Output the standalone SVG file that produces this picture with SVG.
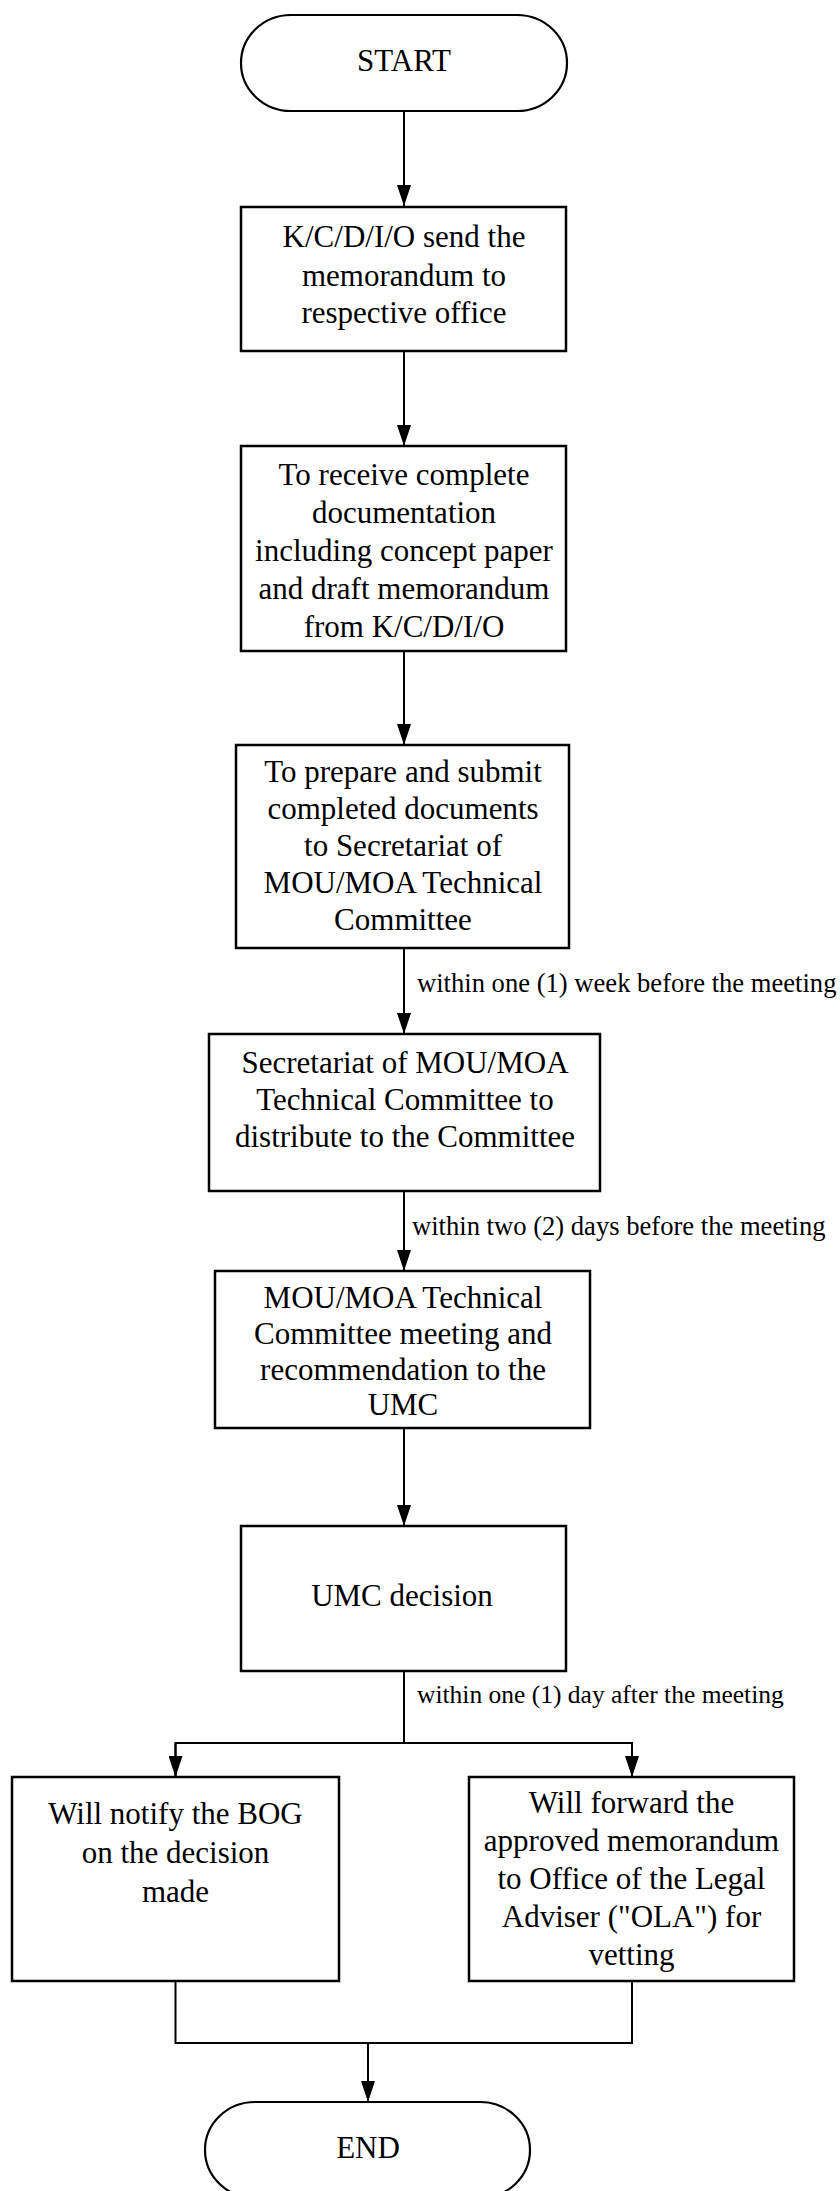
<svg xmlns="http://www.w3.org/2000/svg" width="840" height="2191" viewBox="0 0 840 2191">
<defs>
<style>
.box{fill:#fff;stroke:#000;stroke-width:2.5}
.term{fill:#fff;stroke:#000;stroke-width:2.2}
.t{font-family:"Liberation Serif","Times New Roman",serif;font-size:31px;fill:#000;text-anchor:middle}
.lbl{font-family:"Liberation Serif","Times New Roman",serif;font-size:26.6px;fill:#000;text-anchor:start}
.c{fill:none;stroke:#000;stroke-width:2}
</style>
<marker id="ah" markerUnits="userSpaceOnUse" markerWidth="21" markerHeight="14" refX="21" refY="7" orient="auto">
<path d="M0,0 L21,7 L0,14 z" fill="#000"/>
</marker>
</defs>
<rect width="840" height="2191" fill="#fff"/>

<g id="connectors">
<line class="c" x1="404" y1="111" x2="404" y2="206" marker-end="url(#ah)"/>
<line class="c" x1="404" y1="351" x2="404" y2="446" marker-end="url(#ah)"/>
<line class="c" x1="404" y1="651" x2="404" y2="745" marker-end="url(#ah)"/>
<line class="c" x1="404" y1="948" x2="404" y2="1034" marker-end="url(#ah)"/>
<text class="lbl" x="417" y="992">within one (1) week before the meeting</text>
<line class="c" x1="404" y1="1191" x2="404" y2="1271" marker-end="url(#ah)"/>
<text class="lbl" x="412" y="1235">within two (2) days before the meeting</text>
<line class="c" x1="404" y1="1428" x2="404" y2="1526" marker-end="url(#ah)"/>
<polyline class="c" points="404,1671 404,1743"/>
<text class="lbl" x="417" y="1703" style="font-size:25.5px">within one (1) day after the meeting</text>
<polyline class="c" points="175.5,1777 175.5,1743 632,1743 632,1777" marker-end="url(#ah)"/>
<line class="c" x1="175.5" y1="1743" x2="175.5" y2="1777" marker-end="url(#ah)"/>
<polyline class="c" points="175.5,1981 175.5,2043 632,2043 632,1981"/>
<line class="c" x1="368" y1="2043" x2="368" y2="2102" marker-end="url(#ah)"/>
</g>

<g id="start">
<rect class="term" x="241" y="15" width="326" height="96" rx="50" ry="48"/>
<text class="t" x="404" y="71">START</text>
</g>

<g id="send">
<rect class="box" x="241" y="207" width="325" height="144"/>
<text class="t" x="404" y="247">K/C/D/I/O send the</text>
<text class="t" x="404" y="286">memorandum to</text>
<text class="t" x="404" y="323">respective office</text>
</g>

<g id="receive">
<rect class="box" x="241" y="446" width="325" height="205"/>
<text class="t" x="404" y="485">To receive complete</text>
<text class="t" x="404" y="523">documentation</text>
<text class="t" x="404" y="561">including concept paper</text>
<text class="t" x="404" y="599">and draft memorandum</text>
<text class="t" x="404" y="637">from K/C/D/I/O</text>
</g>

<g id="prepare">
<rect class="box" x="236" y="745" width="333" height="203"/>
<text class="t" x="403" y="782">To prepare and submit</text>
<text class="t" x="403" y="819">completed documents</text>
<text class="t" x="403" y="856">to Secretariat of</text>
<text class="t" x="403" y="893">MOU/MOA Technical</text>
<text class="t" x="403" y="930">Committee</text>
</g>

<g id="distribute">
<rect class="box" x="209" y="1034" width="391" height="157"/>
<text class="t" x="405" y="1073">Secretariat of MOU/MOA</text>
<text class="t" x="405" y="1110">Technical Committee to</text>
<text class="t" x="405" y="1147">distribute to the Committee</text>
</g>

<g id="meeting">
<rect class="box" x="215" y="1271" width="375" height="157"/>
<text class="t" x="403" y="1308">MOU/MOA Technical</text>
<text class="t" x="403" y="1344">Committee meeting and</text>
<text class="t" x="403" y="1380">recommendation to the</text>
<text class="t" x="403" y="1415">UMC</text>
</g>

<g id="decision">
<rect class="box" x="241" y="1526" width="325" height="145"/>
<text class="t" x="402" y="1606">UMC decision</text>
</g>

<g id="notify">
<rect class="box" x="12" y="1777" width="327" height="204"/>
<text class="t" x="175.5" y="1824">Will notify the BOG</text>
<text class="t" x="175.5" y="1863">on the decision</text>
<text class="t" x="175.5" y="1902">made</text>
</g>

<g id="forward">
<rect class="box" x="469" y="1777" width="325" height="204"/>
<text class="t" x="631.5" y="1813">Will forward the</text>
<text class="t" x="631.5" y="1851">approved memorandum</text>
<text class="t" x="631.5" y="1889">to Office of the Legal</text>
<text class="t" x="631.5" y="1927">Adviser ("OLA") for</text>
<text class="t" x="631.5" y="1965">vetting</text>
</g>

<g id="end">
<rect class="term" x="205" y="2102" width="325" height="96" rx="50" ry="48"/>
<text class="t" x="368" y="2158">END</text>
</g>
</svg>
